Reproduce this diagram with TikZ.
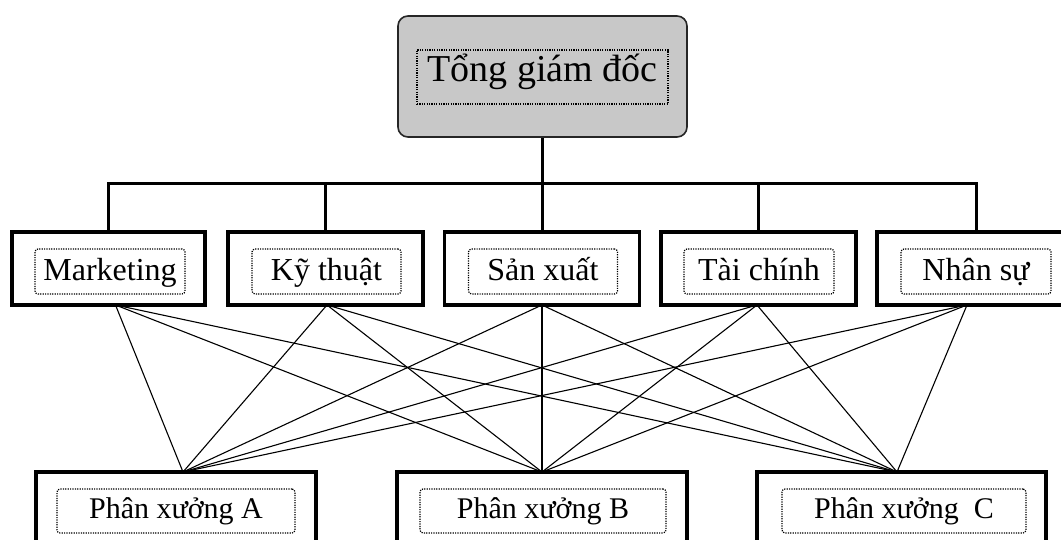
\documentclass[tikz,border=0pt]{standalone}
\usepackage{fontspec}
\setmainfont{Liberation Serif}
\definecolor{topfill}{RGB}{200,200,200}
\begin{document}
\begin{tikzpicture}[x=1pt,y=-1pt,
  outerbox/.style={draw=black,line width=3.2pt,rectangle,minimum height=73pt,inner sep=0pt},
  dotbox/.style={draw=black,line width=1.2pt,dash pattern=on 1.2pt off 1.2pt,rounded corners=3pt,rectangle,inner sep=0pt},
  innerbox/.style={dotbox,minimum height=45pt,text height=24pt,text depth=5pt,font=\fontsize{32}{34}\selectfont},
  lowouter/.style={draw=black,line width=3.2pt,rectangle,minimum height=88pt,inner sep=0pt},
  lowinner/.style={dotbox,minimum height=44pt,text height=21pt,text depth=7pt,font=\fontsize{30}{32}\selectfont},
  bus/.style={line width=3pt,line join=miter},
  link/.style={line width=1.1pt}]
\clip (0,0) rectangle (1061,540);
\fill[white] (0,0) rectangle (1061,540);

% top box
\node[draw=black!85,line width=1.6pt,fill=topfill,rounded corners=10pt,minimum width=289pt,minimum height=121pt,inner sep=0pt] (top) at (542.5,76.5) {};
\node[dotbox,rounded corners=0pt,minimum width=251pt,minimum height=54pt,text height=20pt,text depth=10pt,font=\fontsize{38}{40}\selectfont] (topt) at (542.5,77) {Tổng giám đốc};

% middle row
\node[outerbox,minimum width=193pt] (mk) at (108.5,268.5) {};
\node[outerbox,minimum width=195pt] (kt) at (325.5,268.5) {};
\node[outerbox,minimum width=195pt] (sx) at (542,268.5) {};
\node[outerbox,minimum width=195pt] (tc) at (758.5,268.5) {};
\node[outerbox,minimum width=198pt] (ns) at (976,268.5) {};

\node[innerbox,minimum width=150pt] (mkt) at (110,271.5) {Marketing};
\node[innerbox,minimum width=149pt] (ktt) at (326.5,271.5) {Kỹ thuật};
\node[innerbox,minimum width=149pt] (sxt) at (543,271.5) {Sản xuất};
\node[innerbox,minimum width=150pt] (tct) at (759,271.5) {Tài chính};
\node[innerbox,minimum width=150pt] (nst) at (976,271.5) {Nhân sự};

% bottom row
\node[lowouter,minimum width=280pt] (pa) at (176,516) {};
\node[lowouter,minimum width=290pt] (pb) at (542,516) {};
\node[lowouter,minimum width=289pt] (pc) at (901.5,516) {};

\node[lowinner,minimum width=238pt] (pat) at (176,511) {Phân xưởng A};
\node[lowinner,minimum width=246pt] (pbt) at (543,511) {Phân xưởng B};
\node[lowinner,minimum width=244pt] (pct) at (904,511) {Phân xưởng\ \ C};

% bus
\coordinate (bl) at (108.5,184);
\coordinate (br) at (976,184);
\draw[bus] (mk.north) -- (bl) -- (br) -- (ns.north);
\draw[bus] (top.south) -- (top.south |- bl);
\draw[bus] (kt.north) -- (kt.north |- bl);
\draw[bus] (sx.north) -- (sx.north |- bl);
\draw[bus] (tc.north) -- (tc.north |- bl);

% attach points
\coordinate (amk) at ([xshift=7pt,yshift=1.6pt]mk.south);
\coordinate (akt) at ([xshift=1.5pt,yshift=1.6pt]kt.south);
\coordinate (asx) at ([yshift=1.6pt]sx.south);
\coordinate (atc) at ([xshift=-1.5pt,yshift=1.6pt]tc.south);
\coordinate (ans) at ([xshift=-9pt,yshift=1.6pt]ns.south);
\coordinate (apa) at ([xshift=7pt,yshift=-1.6pt]pa.north);
\coordinate (apb) at ([yshift=-1.6pt]pb.north);
\coordinate (apc) at ([xshift=-4.5pt,yshift=-1.6pt]pc.north);

\foreach \u in {amk,akt,asx,atc,ans}{
  \foreach \v in {apa,apb,apc}{
    \draw[link] (\u) -- (\v);
  }
}
\end{tikzpicture}
\end{document}
